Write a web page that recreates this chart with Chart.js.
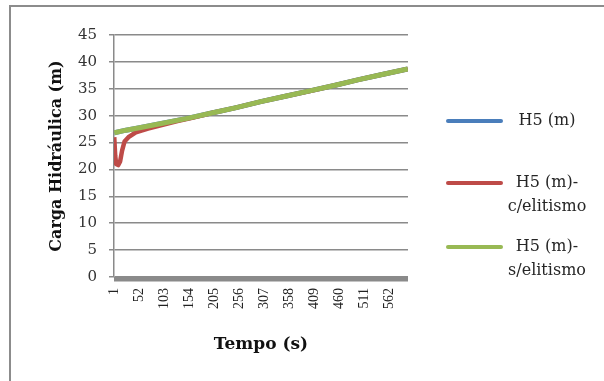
<!DOCTYPE html>
<html>
<head>
<meta charset="utf-8">
<script src="https://cdn.jsdelivr.net/npm/chart.js@4/dist/chart.umd.min.js"></script>
<style>
  html, body { margin: 0; padding: 0; background: #fff; overflow: hidden; }
  #wrap { position: relative; width: 604px; height: 381px; }
  #frame { position: absolute; left: 9px; top: 5px; width: 700px; height: 500px;
           border-top: 2px solid #8c8c8c; border-left: 2px solid #8c8c8c; pointer-events: none; }
  canvas { position: absolute; left: 0; top: 0; }
</style>
</head>
<body>
<div id="wrap">
  <canvas id="chart" width="604" height="381"></canvas>
  <div id="frame"></div>
</div>
<script>
// Time axis (s) tick labels
const xTickValues = [1, 52, 103, 154, 205, 256, 307, 358, 409, 460, 511, 562];

// Hydraulic head readings, H5 (m), without elitism (identical to the base series)
const timeBase = [1, 25, 50, 100, 150, 200, 250, 300, 350, 400, 450, 500, 550, 600];
const headBase = [26.8, 27.3, 27.7, 28.6, 29.5, 30.5, 31.5, 32.6, 33.6, 34.6, 35.6, 36.7, 37.7, 38.7];

// With elitism: early dip, then follows the same path
const timeElit = [1, 3, 5, 9, 13, 17, 22, 30, 45, 70, 100, 130, 160, 200, 250, 300, 350, 400, 450, 500, 550, 600];
const headElit = [26.0, 22.5, 21.0, 20.8, 21.5, 23.5, 25.2, 26.0, 26.9, 27.6, 28.3, 29.0, 29.6, 30.5, 31.5, 32.6, 33.6, 34.6, 35.6, 36.7, 37.7, 38.7];

const seriesLabels = ['H5 (m)', 'H5 (m)-c/elitismo', 'H5 (m)-s/elitismo'];
const legendText = [['H5 (m)'], ['H5 (m)-', 'c/elitismo'], ['H5 (m)-', 's/elitismo']];
const seriesColors = ['#4a7ebb', '#be4b48', '#98b954'];

const toPoints = (xs, ys) => xs.map((x, i) => ({ x: x, y: ys[i] }));

// Legend drawn to the right of the plot, multi-line labels centred
const sideLegend = {
  id: 'sideLegend',
  afterDraw(chart) {
    const ctx = chart.ctx;
    const rows = [121, 183, 247];
    ctx.save();
    ctx.font = '16px "DejaVu Serif"';
    ctx.fillStyle = '#262626';
    ctx.textAlign = 'center';
    ctx.textBaseline = 'middle';
    chart.data.datasets.forEach((ds, i) => {
      const y = rows[i];
      ctx.strokeStyle = ds.borderColor;
      ctx.lineWidth = 4;
      ctx.lineCap = 'round';
      ctx.beginPath();
      ctx.moveTo(448, y);
      ctx.lineTo(501, y);
      ctx.stroke();
      legendText[i].forEach((t, k) => ctx.fillText(t, 547, y + k * 24));
    });
    ctx.restore();
  }
};

// Thick horizontal axis bar under the plot
const axisBar = {
  id: 'axisBar',
  afterDatasetsDraw(chart) {
    const { ctx, chartArea } = chart;
    ctx.save();
    ctx.fillStyle = '#8a8a8a';
    ctx.fillRect(chartArea.left, chartArea.bottom, chartArea.right - chartArea.left, 4.5);
    ctx.restore();
  }
};

new Chart(document.getElementById('chart'), {
  type: 'line',
  data: {
    datasets: [
      { label: seriesLabels[0], data: toPoints(timeBase, headBase), borderColor: seriesColors[0], borderWidth: 5, order: 2 },
      { label: seriesLabels[1], data: toPoints(timeElit, headElit), borderColor: seriesColors[1], borderWidth: 4.5, order: 1 },
      { label: seriesLabels[2], data: toPoints(timeBase, headBase), borderColor: seriesColors[2], borderWidth: 5, order: 0 }
    ]
  },
  options: {
    responsive: false,
    animation: false,
    devicePixelRatio: 1,
    elements: { point: { radius: 0 }, line: { tension: 0, borderJoinStyle: 'round' } },
    layout: { padding: { left: 47, top: 35, right: 196, bottom: 26 } },
    plugins: { legend: { display: false }, tooltip: { enabled: false } },
    scales: {
      x: {
        type: 'linear',
        min: 0.5,
        max: 600.5,
        afterBuildTicks: s => { s.ticks = xTickValues.map(v => ({ value: v })); },
        afterFit: s => { s.height = 78; },
        ticks: {
          autoSkip: false, minRotation: 90, maxRotation: 90, padding: 11,
          color: '#222', font: { family: 'Liberation Serif', size: 14 },
          callback: v => String(v)
        },
        grid: { display: false, drawTicks: false },
        border: { display: false },
        title: {
          display: true, text: 'Tempo (s)', color: '#111',
          font: { family: 'DejaVu Serif', size: 17, weight: 'bold' },
          padding: { top: 0, bottom: 0 }
        }
      },
      y: {
        min: 0,
        max: 45,
        afterFit: s => { s.width = 67; },
        ticks: {
          stepSize: 5, padding: 12, color: '#333',
          font: { family: 'DejaVu Serif', size: 15 }
        },
        grid: { color: '#8a8a8a', lineWidth: 1.5, tickLength: 5 },
        border: { color: '#8a8a8a', width: 1.5 },
        title: {
          display: true, text: 'Carga Hidráulica (m)', color: '#111',
          font: { family: 'DejaVu Serif', size: 16, weight: 'bold' },
          padding: { top: 0, bottom: 0 }
        }
      }
    }
  },
  plugins: [axisBar, sideLegend]
});
</script>
</body>
</html>
